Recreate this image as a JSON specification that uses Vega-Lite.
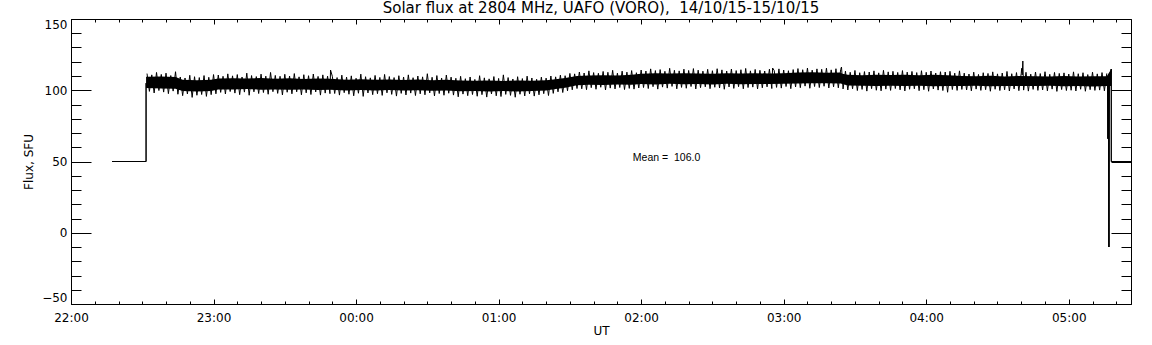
{
  "$schema": "https://vega.github.io/schema/vega-lite/v6.json",
  "width": 1060,
  "height": 285,
  "autosize": {"type": "none"},
  "padding": {"left": 71, "top": 19, "right": 21, "bottom": 41},
  "background": "white",
  "title": {"text": "Solar flux at 2804 MHz, UAFO (VORO), \u00a014/10/15-15/10/15", "font": "DejaVu Sans", "fontSize": 15, "fontWeight": "normal", "color": "black", "anchor": "middle", "offset": 2},
  "config": {
    "view": {"stroke": null},
    "axis": {"grid": false, "domainColor": "black", "tickColor": "black", "labelColor": "black", "titleColor": "black", "labelFont": "DejaVu Sans", "labelFontSize": 12, "titleFont": "DejaVu Sans", "titleFontSize": 12, "titleFontWeight": "normal", "domainWidth": 1, "tickWidth": 1}
  },
  "resolve": {"axis": {"x": "independent", "y": "independent"}},
  "datasets": {
    "band": [
      {"t": "2015-10-14T22:31:36Z", "lo": 101.5, "hi": 109.5},
      {"t": "2015-10-14T22:38:00Z", "lo": 101.2, "hi": 109.6},
      {"t": "2015-10-14T22:44:00Z", "lo": 101.0, "hi": 109.3},
      {"t": "2015-10-14T22:47:00Z", "lo": 99.5, "hi": 107.3},
      {"t": "2015-10-14T22:53:00Z", "lo": 99.2, "hi": 107.0},
      {"t": "2015-10-14T22:59:00Z", "lo": 99.4, "hi": 107.4},
      {"t": "2015-10-14T23:02:00Z", "lo": 100.6, "hi": 108.3},
      {"t": "2015-10-14T23:08:00Z", "lo": 100.5, "hi": 108.4},
      {"t": "2015-10-14T23:14:00Z", "lo": 100.9, "hi": 108.2},
      {"t": "2015-10-14T23:20:00Z", "lo": 100.4, "hi": 108.6},
      {"t": "2015-10-14T23:26:00Z", "lo": 100.6, "hi": 108.1},
      {"t": "2015-10-14T23:32:00Z", "lo": 100.3, "hi": 108.4},
      {"t": "2015-10-14T23:38:00Z", "lo": 100.5, "hi": 107.9},
      {"t": "2015-10-14T23:44:00Z", "lo": 100.1, "hi": 108.2},
      {"t": "2015-10-14T23:49:00Z", "lo": 100.3, "hi": 108.0},
      {"t": "2015-10-14T23:56:00Z", "lo": 99.9, "hi": 107.4},
      {"t": "2015-10-15T00:02:00Z", "lo": 100.1, "hi": 107.7},
      {"t": "2015-10-15T00:08:00Z", "lo": 99.8, "hi": 107.3},
      {"t": "2015-10-15T00:14:00Z", "lo": 100.2, "hi": 107.6},
      {"t": "2015-10-15T00:20:00Z", "lo": 99.9, "hi": 107.2},
      {"t": "2015-10-15T00:26:00Z", "lo": 100.0, "hi": 107.5},
      {"t": "2015-10-15T00:32:00Z", "lo": 99.7, "hi": 107.1},
      {"t": "2015-10-15T00:38:00Z", "lo": 99.9, "hi": 107.4},
      {"t": "2015-10-15T00:44:00Z", "lo": 99.3, "hi": 106.8},
      {"t": "2015-10-15T00:50:00Z", "lo": 99.5, "hi": 106.6},
      {"t": "2015-10-15T00:56:00Z", "lo": 99.2, "hi": 106.9},
      {"t": "2015-10-15T01:02:00Z", "lo": 99.4, "hi": 106.5},
      {"t": "2015-10-15T01:08:00Z", "lo": 99.1, "hi": 106.8},
      {"t": "2015-10-15T01:14:00Z", "lo": 99.5, "hi": 106.7},
      {"t": "2015-10-15T01:20:00Z", "lo": 99.8, "hi": 107.0},
      {"t": "2015-10-15T01:24:00Z", "lo": 100.8, "hi": 107.8},
      {"t": "2015-10-15T01:28:00Z", "lo": 101.8, "hi": 108.6},
      {"t": "2015-10-15T01:33:00Z", "lo": 103.5, "hi": 110.0},
      {"t": "2015-10-15T01:38:00Z", "lo": 103.8, "hi": 110.3},
      {"t": "2015-10-15T01:44:00Z", "lo": 103.6, "hi": 110.6},
      {"t": "2015-10-15T01:50:00Z", "lo": 104.0, "hi": 110.4},
      {"t": "2015-10-15T01:56:00Z", "lo": 103.8, "hi": 110.9},
      {"t": "2015-10-15T02:00:00Z", "lo": 104.3, "hi": 111.6},
      {"t": "2015-10-15T02:06:00Z", "lo": 104.1, "hi": 111.9},
      {"t": "2015-10-15T02:12:00Z", "lo": 104.5, "hi": 111.7},
      {"t": "2015-10-15T02:18:00Z", "lo": 104.2, "hi": 112.0},
      {"t": "2015-10-15T02:24:00Z", "lo": 104.4, "hi": 111.8},
      {"t": "2015-10-15T02:30:00Z", "lo": 104.1, "hi": 111.6},
      {"t": "2015-10-15T02:36:00Z", "lo": 104.5, "hi": 112.0},
      {"t": "2015-10-15T02:42:00Z", "lo": 104.2, "hi": 111.7},
      {"t": "2015-10-15T02:48:00Z", "lo": 104.4, "hi": 111.9},
      {"t": "2015-10-15T02:54:00Z", "lo": 104.3, "hi": 111.8},
      {"t": "2015-10-15T03:00:00Z", "lo": 104.6, "hi": 112.0},
      {"t": "2015-10-15T03:06:00Z", "lo": 104.8, "hi": 112.4},
      {"t": "2015-10-15T03:12:00Z", "lo": 105.0, "hi": 112.6},
      {"t": "2015-10-15T03:18:00Z", "lo": 104.9, "hi": 112.3},
      {"t": "2015-10-15T03:24:00Z", "lo": 104.7, "hi": 112.5},
      {"t": "2015-10-15T03:24:40Z", "lo": 104.3, "hi": 111.5},
      {"t": "2015-10-15T03:27:00Z", "lo": 103.3, "hi": 110.9},
      {"t": "2015-10-15T03:33:00Z", "lo": 103.1, "hi": 110.6},
      {"t": "2015-10-15T03:39:00Z", "lo": 103.0, "hi": 110.9},
      {"t": "2015-10-15T03:45:00Z", "lo": 103.2, "hi": 110.7},
      {"t": "2015-10-15T03:51:00Z", "lo": 102.9, "hi": 110.8},
      {"t": "2015-10-15T03:57:00Z", "lo": 103.1, "hi": 110.5},
      {"t": "2015-10-15T04:03:00Z", "lo": 102.8, "hi": 110.9},
      {"t": "2015-10-15T04:09:00Z", "lo": 102.9, "hi": 110.6},
      {"t": "2015-10-15T04:15:00Z", "lo": 102.9, "hi": 110.0},
      {"t": "2015-10-15T04:21:00Z", "lo": 103.1, "hi": 109.8},
      {"t": "2015-10-15T04:27:00Z", "lo": 102.8, "hi": 110.1},
      {"t": "2015-10-15T04:33:00Z", "lo": 103.0, "hi": 109.7},
      {"t": "2015-10-15T04:39:00Z", "lo": 102.9, "hi": 110.0},
      {"t": "2015-10-15T04:46:00Z", "lo": 102.9, "hi": 109.9},
      {"t": "2015-10-15T04:52:00Z", "lo": 103.1, "hi": 109.6},
      {"t": "2015-10-15T04:58:00Z", "lo": 102.8, "hi": 110.0},
      {"t": "2015-10-15T05:04:00Z", "lo": 103.0, "hi": 109.7},
      {"t": "2015-10-15T05:10:00Z", "lo": 102.7, "hi": 109.9},
      {"t": "2015-10-15T05:16:00Z", "lo": 102.9, "hi": 109.8},
      {"t": "2015-10-15T05:17:54Z", "lo": 103.0, "hi": 114.9}
    ],
    "noise": [
      {"t":"2015-10-14T22:32Z","v":111.7},{"t":"2015-10-14T22:33Z","v":99.2},{"t":"2015-10-14T22:34Z","v":110.8},{"t":"2015-10-14T22:35Z","v":98.1},
      {"t":"2015-10-14T22:36Z","v":112.5},{"t":"2015-10-14T22:37Z","v":99.8},{"t":"2015-10-14T22:38Z","v":111.1},{"t":"2015-10-14T22:39Z","v":98.7},
      {"t":"2015-10-14T22:40Z","v":112.0},{"t":"2015-10-14T22:41Z","v":97.6},{"t":"2015-10-14T22:42Z","v":110.3},{"t":"2015-10-14T22:43Z","v":99.4},
      {"t":"2015-10-14T22:44Z","v":113.0},{"t":"2015-10-14T22:45Z","v":97.2},{"t":"2015-10-14T22:46Z","v":109.3},{"t":"2015-10-14T22:47Z","v":96.2},
      {"t":"2015-10-14T22:48Z","v":108.6},{"t":"2015-10-14T22:49Z","v":97.4},{"t":"2015-10-14T22:50Z","v":110.5},{"t":"2015-10-14T22:51Z","v":95.0},
      {"t":"2015-10-14T22:52Z","v":109.5},{"t":"2015-10-14T22:53Z","v":96.5},{"t":"2015-10-14T22:54Z","v":108.9},{"t":"2015-10-14T22:55Z","v":97.0},
      {"t":"2015-10-14T22:56Z","v":110.3},{"t":"2015-10-14T22:57Z","v":95.7},{"t":"2015-10-14T22:58Z","v":109.1},{"t":"2015-10-14T22:59Z","v":96.9},
      {"t":"2015-10-14T23:00Z","v":111.0},{"t":"2015-10-14T23:01Z","v":97.5},{"t":"2015-10-14T23:02Z","v":110.7},{"t":"2015-10-14T23:03Z","v":98.5},
      {"t":"2015-10-14T23:04Z","v":109.8},{"t":"2015-10-14T23:05Z","v":97.4},{"t":"2015-10-14T23:06Z","v":111.5},{"t":"2015-10-14T23:07Z","v":99.1},
      {"t":"2015-10-14T23:08Z","v":110.1},{"t":"2015-10-14T23:09Z","v":98.0},{"t":"2015-10-14T23:10Z","v":111.0},{"t":"2015-10-14T23:11Z","v":96.9},
      {"t":"2015-10-14T23:12Z","v":109.3},{"t":"2015-10-14T23:13Z","v":98.7},{"t":"2015-10-14T23:14Z","v":112.0},{"t":"2015-10-14T23:15Z","v":96.5},
      {"t":"2015-10-14T23:16Z","v":110.3},{"t":"2015-10-14T23:17Z","v":98.9},{"t":"2015-10-14T23:18Z","v":109.6},{"t":"2015-10-14T23:19Z","v":97.7},
      {"t":"2015-10-14T23:20Z","v":111.3},{"t":"2015-10-14T23:21Z","v":98.4},{"t":"2015-10-14T23:22Z","v":109.9},{"t":"2015-10-14T23:23Z","v":97.2},
      {"t":"2015-10-14T23:24Z","v":112.5},{"t":"2015-10-14T23:25Z","v":99.0},{"t":"2015-10-14T23:26Z","v":110.4},{"t":"2015-10-14T23:27Z","v":97.8},
      {"t":"2015-10-14T23:28Z","v":109.8},{"t":"2015-10-14T23:29Z","v":96.7},{"t":"2015-10-14T23:30Z","v":111.2},{"t":"2015-10-14T23:31Z","v":98.6},
      {"t":"2015-10-14T23:32Z","v":110.0},{"t":"2015-10-14T23:33Z","v":97.5},{"t":"2015-10-14T23:34Z","v":111.7},{"t":"2015-10-14T23:35Z","v":98.9},
      {"t":"2015-10-14T23:36Z","v":109.4},{"t":"2015-10-14T23:37Z","v":96.8},{"t":"2015-10-14T23:38Z","v":110.9},{"t":"2015-10-14T23:39Z","v":98.2},
      {"t":"2015-10-14T23:40Z","v":110.2},{"t":"2015-10-14T23:41Z","v":97.0},{"t":"2015-10-14T23:42Z","v":111.4},{"t":"2015-10-14T23:43Z","v":98.8},
      {"t":"2015-10-14T23:44Z","v":109.7},{"t":"2015-10-14T23:45Z","v":96.6},{"t":"2015-10-14T23:46Z","v":110.8},{"t":"2015-10-14T23:47Z","v":98.0},
      {"t":"2015-10-14T23:48Z","v":109.9},{"t":"2015-10-14T23:49Z","v":97.6},{"t":"2015-10-14T23:49:15Z","v":114.2},{"t":"2015-10-14T23:50Z","v":109.8},{"t":"2015-10-14T23:51Z","v":97.7},
      {"t":"2015-10-14T23:52Z","v":108.9},{"t":"2015-10-14T23:53Z","v":96.6},{"t":"2015-10-14T23:54Z","v":110.6},{"t":"2015-10-14T23:55Z","v":98.3},
      {"t":"2015-10-14T23:56Z","v":109.2},{"t":"2015-10-14T23:57Z","v":97.2},{"t":"2015-10-14T23:58Z","v":110.1},{"t":"2015-10-14T23:59Z","v":96.1},
      {"t":"2015-10-15T00:00Z","v":108.4},{"t":"2015-10-15T00:01Z","v":97.9},{"t":"2015-10-15T00:02Z","v":111.3},{"t":"2015-10-15T00:03Z","v":95.7},
      {"t":"2015-10-15T00:04Z","v":109.5},{"t":"2015-10-15T00:05Z","v":98.1},{"t":"2015-10-15T00:06Z","v":108.7},{"t":"2015-10-15T00:07Z","v":96.9},
      {"t":"2015-10-15T00:08Z","v":110.4},{"t":"2015-10-15T00:09Z","v":97.6},{"t":"2015-10-15T00:10Z","v":109.0},{"t":"2015-10-15T00:11Z","v":96.4},
      {"t":"2015-10-15T00:12Z","v":111.1},{"t":"2015-10-15T00:13Z","v":98.2},{"t":"2015-10-15T00:14Z","v":109.6},{"t":"2015-10-15T00:15Z","v":97.1},
      {"t":"2015-10-15T00:16Z","v":108.9},{"t":"2015-10-15T00:17Z","v":95.9},{"t":"2015-10-15T00:18Z","v":110.2},{"t":"2015-10-15T00:19Z","v":97.8},
      {"t":"2015-10-15T00:20Z","v":109.3},{"t":"2015-10-15T00:21Z","v":96.7},{"t":"2015-10-15T00:22Z","v":110.8},{"t":"2015-10-15T00:23Z","v":98.0},
      {"t":"2015-10-15T00:24Z","v":108.8},{"t":"2015-10-15T00:25Z","v":96.3},{"t":"2015-10-15T00:26Z","v":110.0},{"t":"2015-10-15T00:27Z","v":97.5},
      {"t":"2015-10-15T00:28Z","v":109.4},{"t":"2015-10-15T00:29Z","v":96.8},{"t":"2015-10-15T00:30Z","v":111.6},{"t":"2015-10-15T00:31Z","v":98.1},
      {"t":"2015-10-15T00:32Z","v":109.1},{"t":"2015-10-15T00:33Z","v":96.0},{"t":"2015-10-15T00:34Z","v":110.3},{"t":"2015-10-15T00:35Z","v":97.7},
      {"t":"2015-10-15T00:36Z","v":108.6},{"t":"2015-10-15T00:37Z","v":96.5},{"t":"2015-10-15T00:38Z","v":110.7},{"t":"2015-10-15T00:39Z","v":97.9},
      {"t":"2015-10-15T00:40Z","v":109.2},{"t":"2015-10-15T00:41Z","v":96.6},{"t":"2015-10-15T00:42Z","v":108.4},{"t":"2015-10-15T00:43Z","v":95.4},
      {"t":"2015-10-15T00:44Z","v":109.8},{"t":"2015-10-15T00:45Z","v":97.3},{"t":"2015-10-15T00:46Z","v":108.1},{"t":"2015-10-15T00:47Z","v":96.2},
      {"t":"2015-10-15T00:48Z","v":109.3},{"t":"2015-10-15T00:49Z","v":97.0},{"t":"2015-10-15T00:50Z","v":107.6},{"t":"2015-10-15T00:51Z","v":95.8},
      {"t":"2015-10-15T00:52Z","v":110.2},{"t":"2015-10-15T00:53Z","v":96.9},{"t":"2015-10-15T00:54Z","v":108.7},{"t":"2015-10-15T00:55Z","v":95.2},
      {"t":"2015-10-15T00:56Z","v":108.0},{"t":"2015-10-15T00:57Z","v":97.4},{"t":"2015-10-15T00:58Z","v":109.6},{"t":"2015-10-15T00:59Z","v":96.1},
      {"t":"2015-10-15T01:00Z","v":108.3},{"t":"2015-10-15T01:01Z","v":95.6},{"t":"2015-10-15T01:02Z","v":110.8},{"t":"2015-10-15T01:03Z","v":97.1},
      {"t":"2015-10-15T01:04Z","v":108.9},{"t":"2015-10-15T01:05Z","v":96.4},{"t":"2015-10-15T01:06Z","v":107.9},{"t":"2015-10-15T01:07Z","v":95.1},
      {"t":"2015-10-15T01:08Z","v":109.5},{"t":"2015-10-15T01:09Z","v":97.2},{"t":"2015-10-15T01:10Z","v":108.2},{"t":"2015-10-15T01:11Z","v":96.0},
      {"t":"2015-10-15T01:12Z","v":109.9},{"t":"2015-10-15T01:13Z","v":97.5},{"t":"2015-10-15T01:14Z","v":108.6},{"t":"2015-10-15T01:15Z","v":95.9},
      {"t":"2015-10-15T01:16Z","v":107.7},{"t":"2015-10-15T01:17Z","v":96.8},{"t":"2015-10-15T01:18Z","v":109.2},{"t":"2015-10-15T01:19Z","v":97.6},
      {"t":"2015-10-15T01:20Z","v":108.5},{"t":"2015-10-15T01:21Z","v":96.3},{"t":"2015-10-15T01:22Z","v":110.0},{"t":"2015-10-15T01:23Z","v":97.8},
      {"t":"2015-10-15T01:24Z","v":109.4},{"t":"2015-10-15T01:25Z","v":98.9},{"t":"2015-10-15T01:26Z","v":110.6},{"t":"2015-10-15T01:27Z","v":98.4},
      {"t":"2015-10-15T01:28Z","v":110.2},{"t":"2015-10-15T01:29Z","v":99.6},{"t":"2015-10-15T01:30Z","v":111.8},{"t":"2015-10-15T01:31Z","v":100.3},
      {"t":"2015-10-15T01:32Z","v":111.5},{"t":"2015-10-15T01:33Z","v":101.2},{"t":"2015-10-15T01:34Z","v":112.8},{"t":"2015-10-15T01:35Z","v":101.0},
      {"t":"2015-10-15T01:36Z","v":112.1},{"t":"2015-10-15T01:37Z","v":100.4},{"t":"2015-10-15T01:38Z","v":113.6},{"t":"2015-10-15T01:39Z","v":101.8},
      {"t":"2015-10-15T01:40Z","v":112.4},{"t":"2015-10-15T01:41Z","v":100.7},{"t":"2015-10-15T01:42Z","v":111.9},{"t":"2015-10-15T01:43Z","v":102.1},
      {"t":"2015-10-15T01:44Z","v":113.2},{"t":"2015-10-15T01:45Z","v":100.2},{"t":"2015-10-15T01:46Z","v":112.6},{"t":"2015-10-15T01:47Z","v":101.5},
      {"t":"2015-10-15T01:48Z","v":114.0},{"t":"2015-10-15T01:49Z","v":100.9},{"t":"2015-10-15T01:50Z","v":112.0},{"t":"2015-10-15T01:51Z","v":101.9},
      {"t":"2015-10-15T01:52Z","v":113.4},{"t":"2015-10-15T01:53Z","v":100.5},{"t":"2015-10-15T01:54Z","v":112.7},{"t":"2015-10-15T01:55Z","v":101.3},
      {"t":"2015-10-15T01:56Z","v":113.8},{"t":"2015-10-15T01:57Z","v":100.8},{"t":"2015-10-15T01:58Z","v":112.3},{"t":"2015-10-15T01:59Z","v":101.6},
      {"t":"2015-10-15T02:00Z","v":114.2},{"t":"2015-10-15T02:01Z","v":101.9},{"t":"2015-10-15T02:02Z","v":113.5},{"t":"2015-10-15T02:03Z","v":101.2},
      {"t":"2015-10-15T02:04Z","v":115.0},{"t":"2015-10-15T02:05Z","v":102.5},{"t":"2015-10-15T02:06Z","v":113.8},{"t":"2015-10-15T02:07Z","v":100.8},
      {"t":"2015-10-15T02:08Z","v":114.5},{"t":"2015-10-15T02:09Z","v":102.2},{"t":"2015-10-15T02:10Z","v":113.3},{"t":"2015-10-15T02:11Z","v":101.5},
      {"t":"2015-10-15T02:12Z","v":115.4},{"t":"2015-10-15T02:13Z","v":102.7},{"t":"2015-10-15T02:14Z","v":114.0},{"t":"2015-10-15T02:15Z","v":101.0},
      {"t":"2015-10-15T02:16Z","v":113.6},{"t":"2015-10-15T02:17Z","v":102.0},{"t":"2015-10-15T02:18Z","v":114.8},{"t":"2015-10-15T02:19Z","v":101.4},
      {"t":"2015-10-15T02:20Z","v":113.9},{"t":"2015-10-15T02:21Z","v":102.6},{"t":"2015-10-15T02:22Z","v":115.2},{"t":"2015-10-15T02:23Z","v":100.9},
      {"t":"2015-10-15T02:24Z","v":114.1},{"t":"2015-10-15T02:25Z","v":101.8},{"t":"2015-10-15T02:26Z","v":113.4},{"t":"2015-10-15T02:27Z","v":102.4},
      {"t":"2015-10-15T02:28Z","v":114.7},{"t":"2015-10-15T02:29Z","v":101.1},{"t":"2015-10-15T02:30Z","v":113.7},{"t":"2015-10-15T02:31Z","v":102.1},
      {"t":"2015-10-15T02:32Z","v":115.1},{"t":"2015-10-15T02:33Z","v":101.6},{"t":"2015-10-15T02:34Z","v":114.3},{"t":"2015-10-15T02:35Z","v":100.7},
      {"t":"2015-10-15T02:36Z","v":113.5},{"t":"2015-10-15T02:37Z","v":102.3},{"t":"2015-10-15T02:38Z","v":114.9},{"t":"2015-10-15T02:39Z","v":101.3},
      {"t":"2015-10-15T02:40Z","v":113.8},{"t":"2015-10-15T02:41Z","v":102.5},{"t":"2015-10-15T02:42Z","v":114.4},{"t":"2015-10-15T02:43Z","v":101.0},
      {"t":"2015-10-15T02:44Z","v":115.3},{"t":"2015-10-15T02:45Z","v":101.9},{"t":"2015-10-15T02:46Z","v":113.6},{"t":"2015-10-15T02:47Z","v":102.2},
      {"t":"2015-10-15T02:48Z","v":114.6},{"t":"2015-10-15T02:49Z","v":100.9},{"t":"2015-10-15T02:50Z","v":114.0},{"t":"2015-10-15T02:51Z","v":101.7},
      {"t":"2015-10-15T02:52Z","v":113.5},{"t":"2015-10-15T02:53Z","v":102.4},{"t":"2015-10-15T02:54Z","v":114.8},{"t":"2015-10-15T02:55Z","v":101.2},
      {"t":"2015-10-15T02:55:20Z","v":115.6},{"t":"2015-10-15T02:56Z","v":113.9},{"t":"2015-10-15T02:57Z","v":102.0},{"t":"2015-10-15T02:58Z","v":115.0},{"t":"2015-10-15T02:59Z","v":101.5},
      {"t":"2015-10-15T03:00Z","v":114.2},{"t":"2015-10-15T03:01Z","v":102.6},{"t":"2015-10-15T03:02Z","v":113.7},{"t":"2015-10-15T03:03Z","v":101.1},
      {"t":"2015-10-15T03:04Z","v":114.5},{"t":"2015-10-15T03:05Z","v":102.3},{"t":"2015-10-15T03:06Z","v":115.2},{"t":"2015-10-15T03:07Z","v":101.8},
      {"t":"2015-10-15T03:08Z","v":114.4},{"t":"2015-10-15T03:09Z","v":102.9},{"t":"2015-10-15T03:10Z","v":115.6},{"t":"2015-10-15T03:11Z","v":101.4},
      {"t":"2015-10-15T03:12Z","v":114.1},{"t":"2015-10-15T03:13Z","v":102.6},{"t":"2015-10-15T03:14Z","v":115.0},{"t":"2015-10-15T03:15Z","v":101.9},
      {"t":"2015-10-15T03:16Z","v":114.7},{"t":"2015-10-15T03:17Z","v":102.8},{"t":"2015-10-15T03:18Z","v":115.5},{"t":"2015-10-15T03:19Z","v":101.6},
      {"t":"2015-10-15T03:20Z","v":114.3},{"t":"2015-10-15T03:21Z","v":102.4},{"t":"2015-10-15T03:22Z","v":115.1},{"t":"2015-10-15T03:23Z","v":101.7},
      {"t":"2015-10-15T03:24Z","v":114.6},{"t":"2015-10-15T03:24:20Z","v":116.3},{"t":"2015-10-15T03:25Z","v":100.9},{"t":"2015-10-15T03:26Z","v":113.4},{"t":"2015-10-15T03:27Z","v":100.2},
      {"t":"2015-10-15T03:28Z","v":112.6},{"t":"2015-10-15T03:29Z","v":101.0},{"t":"2015-10-15T03:30Z","v":113.9},{"t":"2015-10-15T03:31Z","v":99.8},
      {"t":"2015-10-15T03:32Z","v":112.3},{"t":"2015-10-15T03:33Z","v":100.6},{"t":"2015-10-15T03:34Z","v":113.1},{"t":"2015-10-15T03:35Z","v":99.4},
      {"t":"2015-10-15T03:36Z","v":112.8},{"t":"2015-10-15T03:37Z","v":101.1},{"t":"2015-10-15T03:38Z","v":113.6},{"t":"2015-10-15T03:39Z","v":100.0},
      {"t":"2015-10-15T03:40Z","v":112.2},{"t":"2015-10-15T03:41Z","v":99.6},{"t":"2015-10-15T03:42Z","v":114.0},{"t":"2015-10-15T03:43Z","v":100.8},
      {"t":"2015-10-15T03:44Z","v":112.9},{"t":"2015-10-15T03:45Z","v":99.9},{"t":"2015-10-15T03:46Z","v":113.3},{"t":"2015-10-15T03:47Z","v":101.2},
      {"t":"2015-10-15T03:48Z","v":112.5},{"t":"2015-10-15T03:49Z","v":100.3},{"t":"2015-10-15T03:50Z","v":113.8},{"t":"2015-10-15T03:51Z","v":99.5},
      {"t":"2015-10-15T03:52Z","v":112.7},{"t":"2015-10-15T03:53Z","v":100.7},{"t":"2015-10-15T03:54Z","v":113.2},{"t":"2015-10-15T03:55Z","v":101.0},
      {"t":"2015-10-15T03:56Z","v":112.4},{"t":"2015-10-15T03:57Z","v":99.7},{"t":"2015-10-15T03:58Z","v":113.7},{"t":"2015-10-15T03:59Z","v":100.4},
      {"t":"2015-10-15T04:00Z","v":112.6},{"t":"2015-10-15T04:01Z","v":99.3},{"t":"2015-10-15T04:02Z","v":113.5},{"t":"2015-10-15T04:03Z","v":100.9},
      {"t":"2015-10-15T04:04Z","v":112.1},{"t":"2015-10-15T04:05Z","v":100.1},{"t":"2015-10-15T04:06Z","v":113.0},{"t":"2015-10-15T04:07Z","v":99.8},
      {"t":"2015-10-15T04:08Z","v":112.8},{"t":"2015-10-15T04:09Z","v":98.6},{"t":"2015-10-15T04:10Z","v":113.3},{"t":"2015-10-15T04:11Z","v":100.5},
      {"t":"2015-10-15T04:12Z","v":112.0},{"t":"2015-10-15T04:13Z","v":99.9},{"t":"2015-10-15T04:14Z","v":113.6},{"t":"2015-10-15T04:15Z","v":100.6},
      {"t":"2015-10-15T04:16Z","v":112.0},{"t":"2015-10-15T04:17Z","v":100.2},{"t":"2015-10-15T04:18Z","v":111.4},{"t":"2015-10-15T04:19Z","v":99.6},
      {"t":"2015-10-15T04:20Z","v":112.7},{"t":"2015-10-15T04:21Z","v":100.8},{"t":"2015-10-15T04:22Z","v":111.1},{"t":"2015-10-15T04:23Z","v":99.9},
      {"t":"2015-10-15T04:24Z","v":112.3},{"t":"2015-10-15T04:25Z","v":100.4},{"t":"2015-10-15T04:26Z","v":111.8},{"t":"2015-10-15T04:27Z","v":99.3},
      {"t":"2015-10-15T04:28Z","v":112.9},{"t":"2015-10-15T04:29Z","v":100.7},{"t":"2015-10-15T04:30Z","v":111.5},{"t":"2015-10-15T04:31Z","v":99.8},
      {"t":"2015-10-15T04:32Z","v":112.1},{"t":"2015-10-15T04:33Z","v":100.3},{"t":"2015-10-15T04:34Z","v":113.2},{"t":"2015-10-15T04:35Z","v":99.5},
      {"t":"2015-10-15T04:36Z","v":111.6},{"t":"2015-10-15T04:37Z","v":100.9},{"t":"2015-10-15T04:38Z","v":112.4},{"t":"2015-10-15T04:39Z","v":99.7},
      {"t":"2015-10-15T04:40Z","v":111.9},{"t":"2015-10-15T04:40:10Z","v":115.4},{"t":"2015-10-15T04:40:25Z","v":110.8},{"t":"2015-10-15T04:40:40Z","v":120.5},{"t":"2015-10-15T04:41Z","v":100.1},{"t":"2015-10-15T04:42Z","v":112.6},{"t":"2015-10-15T04:43Z","v":99.4},
      {"t":"2015-10-15T04:44Z","v":111.3},{"t":"2015-10-15T04:45Z","v":100.6},{"t":"2015-10-15T04:46Z","v":112.8},{"t":"2015-10-15T04:47Z","v":99.9},
      {"t":"2015-10-15T04:48Z","v":111.7},{"t":"2015-10-15T04:49Z","v":100.2},{"t":"2015-10-15T04:50Z","v":113.0},{"t":"2015-10-15T04:51Z","v":99.6},
      {"t":"2015-10-15T04:52Z","v":111.2},{"t":"2015-10-15T04:53Z","v":100.8},{"t":"2015-10-15T04:54Z","v":112.5},{"t":"2015-10-15T04:55Z","v":99.2},
      {"t":"2015-10-15T04:56Z","v":111.8},{"t":"2015-10-15T04:57Z","v":100.5},{"t":"2015-10-15T04:58Z","v":112.2},{"t":"2015-10-15T04:59Z","v":99.8},
      {"t":"2015-10-15T05:00Z","v":111.4},{"t":"2015-10-15T05:01Z","v":100.0},{"t":"2015-10-15T05:02Z","v":112.9},{"t":"2015-10-15T05:03Z","v":99.5},
      {"t":"2015-10-15T05:04Z","v":111.6},{"t":"2015-10-15T05:05Z","v":100.7},{"t":"2015-10-15T05:06Z","v":112.3},{"t":"2015-10-15T05:07Z","v":99.3},
      {"t":"2015-10-15T05:08Z","v":111.0},{"t":"2015-10-15T05:09Z","v":100.4},{"t":"2015-10-15T05:10Z","v":112.7},{"t":"2015-10-15T05:11Z","v":99.9},
      {"t":"2015-10-15T05:12Z","v":111.5},{"t":"2015-10-15T05:13Z","v":100.1},{"t":"2015-10-15T05:14Z","v":112.4},{"t":"2015-10-15T05:15Z","v":99.6},
      {"t":"2015-10-15T05:16Z","v":111.8}
    ],
    "trace": [
      {"seg": "a", "i": 1, "t": "2015-10-14T22:17:18Z", "v": 50},
      {"seg": "a", "i": 2, "t": "2015-10-14T22:31:36Z", "v": 50},
      {"seg": "a", "i": 3, "t": "2015-10-14T22:31:36Z", "v": 105},
      {"seg": "b", "i": 4, "t": "2015-10-15T05:16:20Z", "v": 105},
      {"seg": "b", "i": 5, "t": "2015-10-15T05:16:30Z", "v": 66},
      {"seg": "b", "i": 6, "t": "2015-10-15T05:16:40Z", "v": 105},
      {"seg": "b", "i": 7, "t": "2015-10-15T05:16:54Z", "v": -10},
      {"seg": "b", "i": 8, "t": "2015-10-15T05:17:06Z", "v": 105},
      {"seg": "b", "i": 9, "t": "2015-10-15T05:17:54Z", "v": 114.9},
      {"seg": "b", "i": 10, "t": "2015-10-15T05:17:54Z", "v": 50},
      {"seg": "b", "i": 11, "t": "2015-10-15T05:26:12Z", "v": 50}
    ],
    "mean": [
      {"t": "2015-10-15T01:56:30Z", "v": 52.5, "label": "Mean = \u00a0106.0"}
    ]
  },
  "layer": [
    {
      "data": {"name": "band"},
      "mark": {"type": "area", "color": "black", "opacity": 1},
      "encoding": {
        "x": {"field": "t", "type": "temporal",
          "scale": {"type": "utc", "domain": [1444860000000, 1444886772000]},
          "axis": {"orient": "bottom", "domain": true, "ticks": false,
            "values": [1444860000000, 1444863600000, 1444867200000, 1444870800000, 1444874400000, 1444878000000, 1444881600000, 1444885200000],
            "labelExpr": "utcFormat(datum.value, '%H:%M')",
            "labelPadding": 8, "labelFlush": false, "labelOverlap": false, "title": "UT", "titlePadding": 2}},
        "y": {"field": "lo", "type": "quantitative",
          "scale": {"domain": [-50, 150], "nice": false, "zero": false},
          "axis": {"orient": "left", "domain": true, "ticks": false,
            "values": [-50, 0, 50, 100, 150],
            "labelPadding": 4, "labelFlush": true, "labelOverlap": false, "title": "Flux, SFU", "titlePadding": 6}},
        "y2": {"field": "hi"}
      }
    },
    {
      "data": {"name": "noise"},
      "mark": {"type": "line", "color": "black", "strokeWidth": 1},
      "encoding": {
        "x": {"field": "t", "type": "temporal",
          "scale": {"type": "utc", "domain": [1444860000000, 1444886772000]},
          "axis": {"orient": "bottom", "domain": false, "labels": false, "tickSize": -5, "title": null,
            "values": [1444860000000, 1444863600000, 1444867200000, 1444870800000, 1444874400000, 1444878000000, 1444881600000, 1444885200000]}},
        "y": {"field": "v", "type": "quantitative",
          "scale": {"domain": [-50, 150], "nice": false, "zero": false},
          "axis": {"orient": "left", "domain": false, "labels": false, "tickSize": -20, "title": null,
            "values": [-50, 0, 50, 100, 150]}}
      }
    },
    {
      "data": {"name": "trace"},
      "mark": {"type": "line", "color": "black", "strokeWidth": 1},
      "encoding": {
        "x": {"field": "t", "type": "temporal",
          "scale": {"type": "utc", "domain": [1444860000000, 1444886772000]},
          "axis": {"orient": "bottom", "domain": false, "labels": false, "tickSize": -3, "title": null,
            "values": [1444860000000, 1444860600000, 1444861200000, 1444861800000, 1444862400000, 1444863000000, 1444863600000, 1444864200000, 1444864800000, 1444865400000, 1444866000000, 1444866600000, 1444867200000, 1444867800000, 1444868400000, 1444869000000, 1444869600000, 1444870200000, 1444870800000, 1444871400000, 1444872000000, 1444872600000, 1444873200000, 1444873800000, 1444874400000, 1444875000000, 1444875600000, 1444876200000, 1444876800000, 1444877400000, 1444878000000, 1444878600000, 1444879200000, 1444879800000, 1444880400000, 1444881000000, 1444881600000, 1444882200000, 1444882800000, 1444883400000, 1444884000000, 1444884600000, 1444885200000, 1444885800000, 1444886400000]}},
        "y": {"field": "v", "type": "quantitative",
          "scale": {"domain": [-50, 150], "nice": false, "zero": false},
          "axis": {"orient": "left", "domain": false, "labels": false, "tickSize": -10, "title": null,
            "values": [-50, -40, -30, -20, -10, 0, 10, 20, 30, 40, 50, 60, 70, 80, 90, 100, 110, 120, 130, 140, 150]}},
        "detail": {"field": "seg", "type": "nominal"},
        "order": {"field": "i", "type": "quantitative"}
      }
    },
    {
      "data": {"name": "mean"},
      "mark": {"type": "text", "color": "black", "align": "left", "baseline": "middle", "font": "Liberation Sans", "fontSize": 10.5},
      "encoding": {
        "x": {"field": "t", "type": "temporal",
          "scale": {"type": "utc", "domain": [1444860000000, 1444886772000]},
          "axis": {"orient": "top", "domain": true, "labels": false, "tickSize": -5, "title": null,
            "values": [1444860000000, 1444863600000, 1444867200000, 1444870800000, 1444874400000, 1444878000000, 1444881600000, 1444885200000]}},
        "y": {"field": "v", "type": "quantitative",
          "scale": {"domain": [-50, 150], "nice": false, "zero": false},
          "axis": {"orient": "right", "domain": true, "labels": false, "tickSize": -20, "title": null,
            "values": [-50, 0, 50, 100, 150]}},
        "text": {"field": "label", "type": "nominal"}
      }
    },
    {
      "data": {"name": "trace"},
      "mark": {"type": "line", "color": "black", "strokeWidth": 1},
      "encoding": {
        "x": {"field": "t", "type": "temporal",
          "scale": {"type": "utc", "domain": [1444860000000, 1444886772000]},
          "axis": {"orient": "top", "domain": false, "labels": false, "tickSize": -3, "title": null,
            "values": [1444860000000, 1444860600000, 1444861200000, 1444861800000, 1444862400000, 1444863000000, 1444863600000, 1444864200000, 1444864800000, 1444865400000, 1444866000000, 1444866600000, 1444867200000, 1444867800000, 1444868400000, 1444869000000, 1444869600000, 1444870200000, 1444870800000, 1444871400000, 1444872000000, 1444872600000, 1444873200000, 1444873800000, 1444874400000, 1444875000000, 1444875600000, 1444876200000, 1444876800000, 1444877400000, 1444878000000, 1444878600000, 1444879200000, 1444879800000, 1444880400000, 1444881000000, 1444881600000, 1444882200000, 1444882800000, 1444883400000, 1444884000000, 1444884600000, 1444885200000, 1444885800000, 1444886400000]}},
        "y": {"field": "v", "type": "quantitative",
          "scale": {"domain": [-50, 150], "nice": false, "zero": false},
          "axis": {"orient": "right", "domain": false, "labels": false, "tickSize": -10, "title": null,
            "values": [-50, -40, -30, -20, -10, 0, 10, 20, 30, 40, 50, 60, 70, 80, 90, 100, 110, 120, 130, 140, 150]}},
        "detail": {"field": "seg", "type": "nominal"},
        "order": {"field": "i", "type": "quantitative"}
      }
    }
  ]
}
